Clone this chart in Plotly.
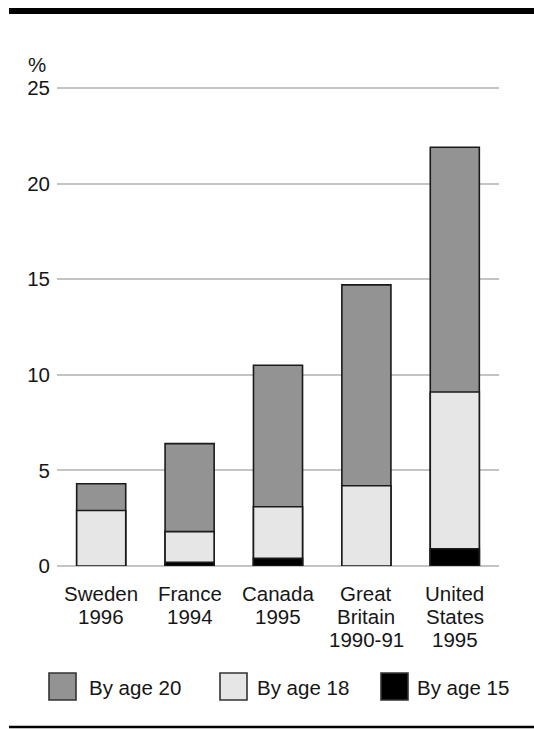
import plotly.graph_objects as go

category_lines = [["Sweden", "1996"], ["France", "1994"], ["Canada", "1995"],
                  ["Great", "Britain", "1990-91"], ["United", "States", "1995"]]
categories = [" ".join(c) for c in category_lines]
by_age_20 = [4.3, 6.4, 10.5, 14.7, 21.9]
by_age_18 = [2.9, 1.8, 3.1, 4.2, 9.1]
by_age_15 = [None, 0.2, 0.4, None, 0.9]
series_names = ["By age 20", "By age 18", "By age 15"]
y_ticks = [0, 5, 10, 15, 20, 25]

W, H = 534, 729
YMAX = 25.1
L, R, B = 57, 499, 566           # plot area in pixels
T = B - (B - 88) * YMAX / 25     # top so that 25 sits at y=88
FONT = "Liberation Sans, Arial, Helvetica, sans-serif"
FS = 20.5
TXT = "#161616"
colors = ["#939393", "#e6e6e6", "#000000"]
outline = "#1a1a1a"


def px(x):
    return (x - L) / (R - L)


def py(y):
    return (B - y) / (B - T)


fig = go.Figure()
for name, vals, col in zip(series_names, [by_age_20, by_age_18, by_age_15], colors):
    fig.add_trace(go.Bar(
        x=categories, y=vals, name=name, width=0.555,
        marker=dict(color=col, line=dict(color=outline, width=1.6)),
        showlegend=False, hoverinfo="x+y+name",
    ))

shapes = [
    dict(type="line", xref="paper", yref="paper", x0=px(9), x1=px(534),
         y0=py(11), y1=py(11), line=dict(color="black", width=6)),
    dict(type="line", xref="paper", yref="paper", x0=px(9), x1=px(534),
         y0=py(727), y1=py(727), line=dict(color="black", width=2.5)),
]
annotations = [
    dict(text="%", xref="paper", yref="paper", x=px(37), y=py(65),
         showarrow=False, font=dict(family=FONT, size=FS, color=TXT),
         xanchor="center", yanchor="middle"),
]

# category labels, one annotation per line, placed on the category axis
for cat, lines in zip(categories, category_lines):
    for i, line in enumerate(lines):
        annotations.append(dict(text=line, xref="x", yref="paper", x=cat,
                                y=py(593.5 + 22.8 * i), showarrow=False,
                                xanchor="center", yanchor="middle",
                                font=dict(family=FONT, size=FS, color=TXT)))

legend_sq_x = [49, 220, 381]
legend_txt_x = [87, 255, 415]
for name, col, sx, tx in zip(series_names, colors, legend_sq_x, legend_txt_x):
    shapes.append(dict(type="rect", xref="paper", yref="paper",
                       x0=px(sx), x1=px(sx + 27), y0=py(673), y1=py(700),
                       fillcolor=col, line=dict(color="#333", width=1.6)))
    annotations.append(dict(text=name, xref="paper", yref="paper",
                            x=px(tx), y=py(687), showarrow=False,
                            xanchor="left", yanchor="middle",
                            font=dict(family=FONT, size=FS, color=TXT)))

fig.update_layout(
    width=W, height=H,
    margin=dict(l=L, r=W - R, t=T, b=H - B, pad=0),
    barmode="overlay",
    plot_bgcolor="white", paper_bgcolor="white",
    font=dict(family=FONT, size=FS, color=TXT),
    shapes=shapes, annotations=annotations,
    xaxis=dict(showgrid=False, showline=False, zeroline=False, ticks="",
               showticklabels=False, fixedrange=True),
    yaxis=dict(range=[0, YMAX], tickvals=y_ticks, showgrid=True,
               gridcolor="#c4c4c4", gridwidth=1.5, zeroline=True,
               zerolinecolor="#c4c4c4", zerolinewidth=1.5, showline=False,
               ticks="", ticklabelstandoff=6,
               tickfont=dict(family=FONT, size=FS, color=TXT),
               fixedrange=True),
)

fig.write_html("out.html",
               config={"displayModeBar": False},
               post_script="document.body.style.margin='0';"
                           "document.body.style.overflow='hidden';")
